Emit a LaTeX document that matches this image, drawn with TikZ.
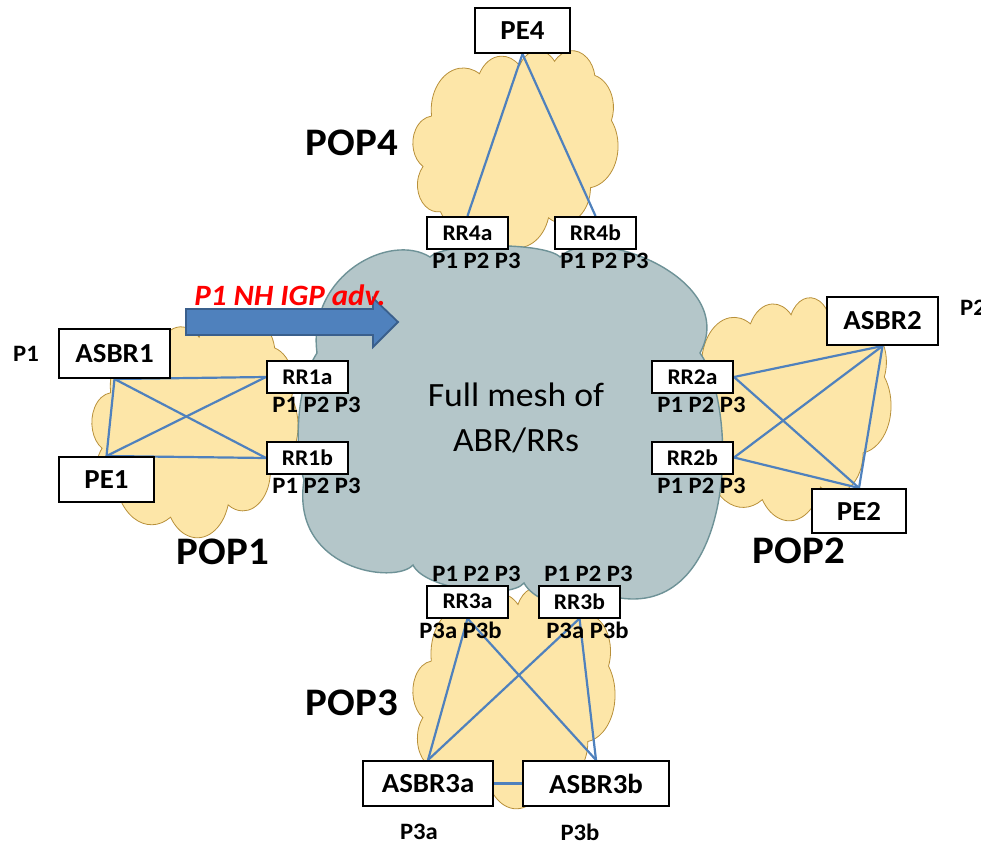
\documentclass[tikz,border=0pt]{standalone}
\usepackage{fontspec}
\setmainfont{Carlito}[FakeStretch=1.05]
\usetikzlibrary{positioning}
\definecolor{popfill}{HTML}{FDE6A8}
\definecolor{popline}{HTML}{B8903A}
\definecolor{meshfill}{HTML}{B4C6C9}
\definecolor{meshline}{HTML}{6E9297}
\definecolor{linkblue}{HTML}{4F81BD}
\definecolor{arrowline}{HTML}{3A5F8C}
\pgfdeclarelayer{clouds}
\pgfdeclarelayer{links}
\pgfsetlayers{clouds,links,main}

% office style cloud outline on a 432 x 432 grid, centred on the pic origin
\tikzset{
  pics/netcloud/.style 2 args={code={
    \path[pic actions, xscale=#1/432, yscale=#2/432, shift={(-216,-216)}]
      (39,143.7)
      arc[start angle=-187.745, end angle=-59.64,  x radius=67.53, y radius=91.90]
      arc[start angle=-152.01,  end angle=-45.46,  x radius=53.33, y radius=72.67]
      arc[start angle=-153.49,  end angle=-37.35,  x radius=43.65, y radius=59.45]
      arc[start angle=-139.70,  end angle=-10.21,  x radius=48.57, y radius=65.95]
      arc[start angle=-74.77,   end angle=23.21,   x radius=53.33, y radius=72.73]
      arc[start angle=-37.51,   end angle=81.86,   x radius=67.75, y radius=92.20]
      arc[start angle=0.46,     end angle=121.98,  x radius=57.85, y radius=78.67]
      arc[start angle=16.84,    end angle=146.24,  x radius=67.52, y radius=92.15]
      arc[start angle=59.03,    end angle=150.18,  x radius=77.20, y radius=105.43]
      arc[start angle=-276.70,  end angle=-136.90, x radius=43.60, y radius=59.18]
      arc[start angle=-239.65,  end angle=-95.89,  x radius=43.45, y radius=59.45]
      -- cycle;
  }}
}

\begin{document}
\begin{tikzpicture}[x=1pt, y=-1pt,
   popcloud/.style={draw=popline, fill=popfill, line width=0.8pt},
   meshcloud/.style={draw=meshline, fill=meshfill, line width=1.4pt},
   box/.style={draw, fill=white, line width=2pt, inner sep=0pt,
               font=\bfseries\fontsize{27.5}{27.5}\selectfont, minimum width=95pt, minimum height=45pt},
   rrbox/.style={box, font=\bfseries\fontsize{22.4}{22.4}\selectfont, minimum width=81pt, minimum height=32pt},
   tag/.style={font=\bfseries\fontsize{23.5}{23.5}\selectfont, inner sep=0pt},
   ptag/.style={tag, xshift=9pt},
   poplabel/.style={font=\bfseries\fontsize{39}{39}\selectfont, inner sep=0pt},
   link/.style={linkblue, line width=2.2pt},
   label distance=3pt]

\useasboundingbox (0,0) rectangle (981,845);

\begin{pgfonlayer}{clouds}
\pic[popcloud] at (195,428.5) {netcloud={206}{217}};
\pic[popcloud] at (787,408.5) {netcloud={208}{223}};
\pic[popcloud] at (514,697.5) {netcloud={202}{221}};
\pic[popcloud] at (515.5,148.5) {netcloud={205}{197}};
% core cloud, puff by puff
\draw[meshcloud] (317,353)
   .. controls (307,275) and (390,232) .. (430,257)
   .. controls (445,242) and (545,242) .. (560,257)
   .. controls (595,222) and (740,280) .. (700,353)
   .. controls (740,410) and (735,615) .. (620,598)
   .. controls (610,615) and (540,612) .. (524,583)
   .. controls (510,600) and (425,590) .. (413,565)
   .. controls (395,585) and (290,570) .. (304,480)
   .. controls (294,450) and (296,385) .. (317,353) -- cycle;
\end{pgfonlayer}

\node[font=\fontsize{34}{45}\selectfont, align=center, inner sep=0pt] (meshtext) at (516,418)
   {Full mesh of\\ABR/RRs};

% POP4
\node[box] (pe4) at (522.5,30.5) {PE4};
\node[rrbox, label={[ptag]below:P1 P2 P3}] (rr4a) at (467.5,233) {RR4a};
\node[rrbox, label={[ptag]below:P1 P2 P3}] (rr4b) at (595.5,233) {RR4b};
\node[poplabel] (pop4name) at (352,143) {POP4};

% POP1
\node[box, minimum width=111pt, minimum height=49pt] (asbr1) at (114.5,353.5) {ASBR1};
\node[tag, left=19pt of asbr1] (asbr1tag) {P1};
\node[rrbox, label={[ptag]below:P1 P2 P3}] (rr1a) at (307.5,377) {RR1a};
\node[rrbox, label={[ptag]below:P1 P2 P3}] (rr1b) at (307.5,458) {RR1b};
\node[box] (pe1) at (106.5,479.5) {PE1};
\node[poplabel] (pop1name) at (223,552) {POP1};

% POP2
\node[box, minimum width=111pt, minimum height=48pt] (asbr2) at (882.5,321) {ASBR2};
\node[tag, right=21pt of asbr2, yshift=13pt] (asbr2tag) {P2};
\node[rrbox, label={[ptag]below:P1 P2 P3}] (rr2a) at (692.5,377) {RR2a};
\node[rrbox, label={[ptag]below:P1 P2 P3}] (rr2b) at (692.5,457.5) {RR2b};
\node[box, minimum width=94pt, minimum height=44pt] (pe2) at (859,511) {PE2};
\node[poplabel] (pop2name) at (799,551) {POP2};

% POP3
\node[rrbox, label={[ptag]above:P1 P2 P3}, label={[tag, xshift=-7pt]below:P3a P3b}] (rr3a) at (467.5,601.5) {RR3a};
\node[rrbox, label={[ptag]above:P1 P2 P3}, label={[tag, xshift=8pt]below:P3a P3b}] (rr3b) at (579.5,601.5) {RR3b};
\node[box, minimum width=130pt] (asbr3a) at (428,783.5) {ASBR3a};
\node[box, minimum width=146pt] (asbr3b) at (596,783.5) {ASBR3b};
\node[tag] (asbr3atag) at (419,832) {P3a};
\node[tag] (asbr3btag) at (580,832) {P3b};
\node[poplabel] (pop3name) at (352,703) {POP3};

\begin{pgfonlayer}{links}
\draw[link] (pe4.south) -- (rr4a.north);
\draw[link] (pe4.south) -- (rr4b.north);
\draw[link] (asbr1.south) -- (rr1a.west);
\draw[link] (asbr1.south) -- (rr1b.west);
\draw[link] (asbr1.south) -- (pe1.north);
\draw[link] (pe1.north) -- (rr1a.west);
\draw[link] (pe1.north) -- (rr1b.west);
\draw[link] (rr2a.east) -- (asbr2.south);
\draw[link] (rr2a.east) -- (pe2.north);
\draw[link] (rr2b.east) -- (asbr2.south);
\draw[link] (rr2b.east) -- (pe2.north);
\draw[link] (asbr2.south) -- (pe2.north);
\draw[link] (asbr3a.north) -- (rr3a.south);
\draw[link] (asbr3a.north) -- (rr3b.south);
\draw[link] (asbr3b.north) -- (rr3a.south);
\draw[link] (asbr3b.north) -- (rr3b.south);
\draw[link] (asbr3a.east) -- (asbr3b.west);
\end{pgfonlayer}

% next-hop advertisement arrow
\draw[fill=linkblue, draw=arrowline, line width=1.8pt, line join=miter]
   (186,309) -- (373,309) -- (373,298) -- (398,322) -- (373,347) -- (373,335) -- (186,335) -- cycle;
\node[font=\bfseries\itshape\fontsize{29.5}{29.5}\selectfont, text=red, inner sep=0pt] (advtext) at (290,295)
   {P1 NH IGP adv.};

\end{tikzpicture}
\end{document}
